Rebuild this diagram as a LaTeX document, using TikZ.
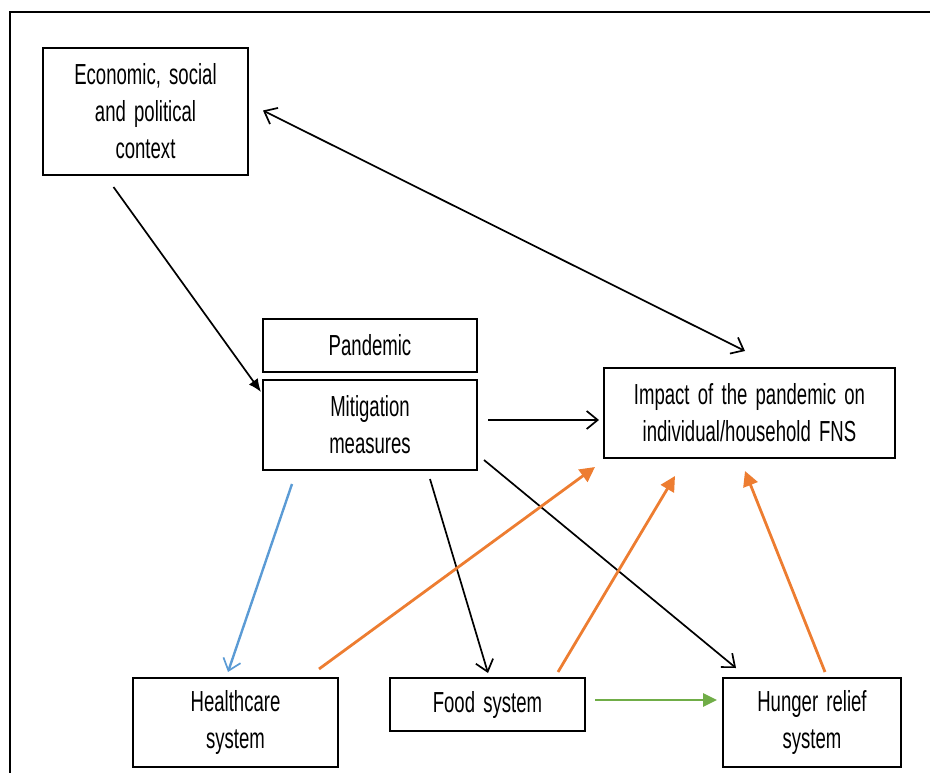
\documentclass[tikz,border=0pt]{standalone}
\usepackage{fontspec}
\setmainfont{Liberation Sans}[FakeStretch=0.64,WordSpace=1.6]
\usetikzlibrary{arrows.meta,calc}
\definecolor{myblue}{HTML}{5B9BD5}
\definecolor{myorange}{HTML}{ED7D31}
\definecolor{mygreen}{HTML}{70AD47}
\begin{document}
\begin{tikzpicture}[x=1pt,y=-1pt,
  box/.style={draw, line width=2pt, align=center, inner sep=0pt,
    font=\fontsize{29}{37}\selectfont},
  blk/.style={line width=1.7pt, -{Straight Barb[length=11pt,width=18pt,line width=1.7pt]}},
  orng/.style={draw=myorange, line width=2.8pt, -{Triangle[length=15pt,width=15pt]}, myorange},
]
\useasboundingbox (0,0) rectangle (930,773);
\draw[line width=2.6pt] (10,773) -- (10,12) -- (930,12);

\node[box, minimum width=205pt, minimum height=127pt] (econ) at (145.5,111.5) {Economic, social\\and political\\context};
\node[box, minimum width=214pt, minimum height=53pt] (pand) at (370,345.5) {Pandemic};
\node[box, minimum width=214pt, minimum height=90pt] (mitig) at (370,425) {Mitigation\\measures};
\node[box, minimum width=291pt, minimum height=90pt] (impact) at (749.5,413) {Impact of the pandemic on\\individual/household FNS};
\node[box, minimum width=205pt, minimum height=89pt] (health) at (235.5,722.5) {Healthcare\\system};
\node[box, minimum width=195pt, minimum height=53pt] (food) at (487.5,704.5) {Food system};
\node[box, minimum width=178pt, minimum height=89pt] (hunger) at (812,722.5) {Hunger relief\\system};

\draw[line width=1.7pt, -{Latex[length=13pt,width=11pt]}] ([shift={(-32,11)}]econ.south) -- ([shift={(-1,13)}]mitig.north west);
\draw[line width=1.7pt, {Straight Barb[length=11pt,width=18pt,line width=1.7pt]}-{Straight Barb[length=11pt,width=18pt,line width=1.7pt]}] ([shift={(14,-1)}]econ.east) -- ([shift={(-4.5,-16)}]impact.north);
\draw[blk] ([shift={(10,-5)}]mitig.east) -- ([shift={(-4,7)}]impact.west);
\draw[blk, myblue, line width=2.4pt] ([shift={(-78,13)}]mitig.south) -- ([shift={(-7.5,-5)}]health.north);
\draw[blk] ([shift={(60,8)}]mitig.south) -- ([shift={(0.5,-4)}]food.north);
\draw[blk] ([shift={(6,-11)}]mitig.south east) -- ([shift={(14,-9)}]hunger.north west);
\draw[orng] ([shift={(-20,-8)}]health.north east) -- ([shift={(-8,8)}]impact.south west);
\draw[orng] ([shift={(-28,-5)}]food.north east) -- ([shift={(-74.5,17)}]impact.south);
\draw[orng] ([shift={(13,-5)}]hunger.north) -- ([shift={(-4.5,12)}]impact.south);
\draw[mygreen, line width=2.8pt, -{Triangle[length=14pt,width=13pt]}] ([shift={(9,-4.5)}]food.east) -- ([shift={(-5,-22.5)}]hunger.west);
\end{tikzpicture}
\end{document}
